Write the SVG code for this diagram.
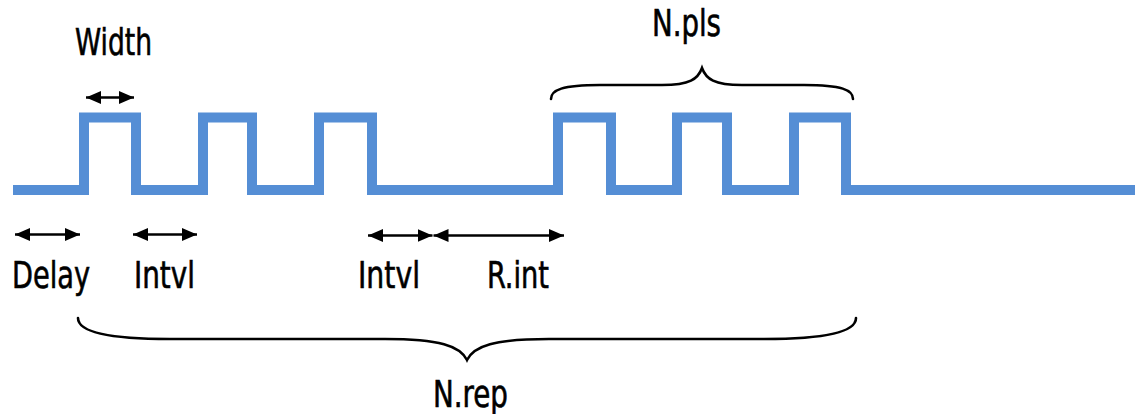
<svg xmlns="http://www.w3.org/2000/svg" width="1135" height="414" viewBox="0 0 1135 414">
<style>
.sig{fill:none;stroke:#558ED5;stroke-width:10;stroke-linejoin:miter;stroke-linecap:butt}
.arr{stroke:#000;stroke-width:2.4;fill:none}
.brace{fill:none;stroke:#000;stroke-width:2.6;stroke-linecap:round}
.lbl{font-family:"Liberation Sans Narrow","DejaVu Sans Condensed","Liberation Sans",sans-serif;font-stretch:condensed;font-size:38px;fill:#000;stroke:#000;stroke-width:0.6}
</style>
<defs>
<marker id="ah" markerUnits="userSpaceOnUse" markerWidth="16" markerHeight="14" refX="15" refY="6.5" orient="auto-start-reverse" viewBox="0 0 16 13">
<path d="M0,0 L15,6.5 L0,13 z" fill="#000"/>
</marker>
</defs>
<rect width="1135" height="414" fill="#fff"/>
<g id="signal">
<polyline class="sig" points="13,190 84,190 84,117.5 136,117.5 136,190 203,190 203,117.5 252,117.5 252,190 319,190 319,117.5 372,117.5 372,190 558,190 558,117.5 611,117.5 611,190 677,190 677,117.5 727,117.5 727,190 794,190 794,117.5 846,117.5 846,190 1135,190"/>
</g>
<g id="connectors">
<line class="arr" x1="86" y1="97.5" x2="134" y2="97.5" marker-start="url(#ah)" marker-end="url(#ah)"/>
<line class="arr" x1="15" y1="234.5" x2="80" y2="234.5" marker-start="url(#ah)" marker-end="url(#ah)"/>
<line class="arr" x1="133" y1="234.5" x2="197" y2="234.5" marker-start="url(#ah)" marker-end="url(#ah)"/>
<line class="arr" x1="368" y1="235.5" x2="432.5" y2="235.5" marker-start="url(#ah)" marker-end="url(#ah)"/>
<line class="arr" x1="433.5" y1="235.5" x2="564" y2="235.5" marker-start="url(#ah)" marker-end="url(#ah)"/>
</g>
<g id="brace-npls">
<path class="brace" d="M551,99 C551,90 562,85 600,85 L662,85 C690,85 698,79 702,68 C706,79 714,85 742,85 L804,85 C842,85 853,90 853,99"/>
</g>
<g id="brace-nrep">
<path class="brace" d="M78,318 C78,330 100,339 170,339 L385,339 C440,339 460,346 467,360 C474,346 494,339 549,339 L764,339 C834,339 856,330 856,318"/>
</g>
<g id="label-width"><text class="lbl" x="75" y="55" textLength="77" lengthAdjust="spacingAndGlyphs">Width</text></g>
<g id="label-npls"><text class="lbl" x="652" y="36" textLength="69" lengthAdjust="spacingAndGlyphs">N.pls</text></g>
<g id="label-delay"><text class="lbl" x="12" y="288" textLength="78" lengthAdjust="spacingAndGlyphs">Delay</text></g>
<g id="label-intvl1"><text class="lbl" x="134" y="288" textLength="61" lengthAdjust="spacingAndGlyphs">Intvl</text></g>
<g id="label-intvl2"><text class="lbl" x="358" y="288" textLength="62" lengthAdjust="spacingAndGlyphs">Intvl</text></g>
<g id="label-rint"><text class="lbl" x="487" y="288" textLength="62" lengthAdjust="spacingAndGlyphs">R.int</text></g>
<g id="label-nrep"><text class="lbl" x="433" y="407" textLength="75" lengthAdjust="spacingAndGlyphs">N.rep</text></g>
</svg>
